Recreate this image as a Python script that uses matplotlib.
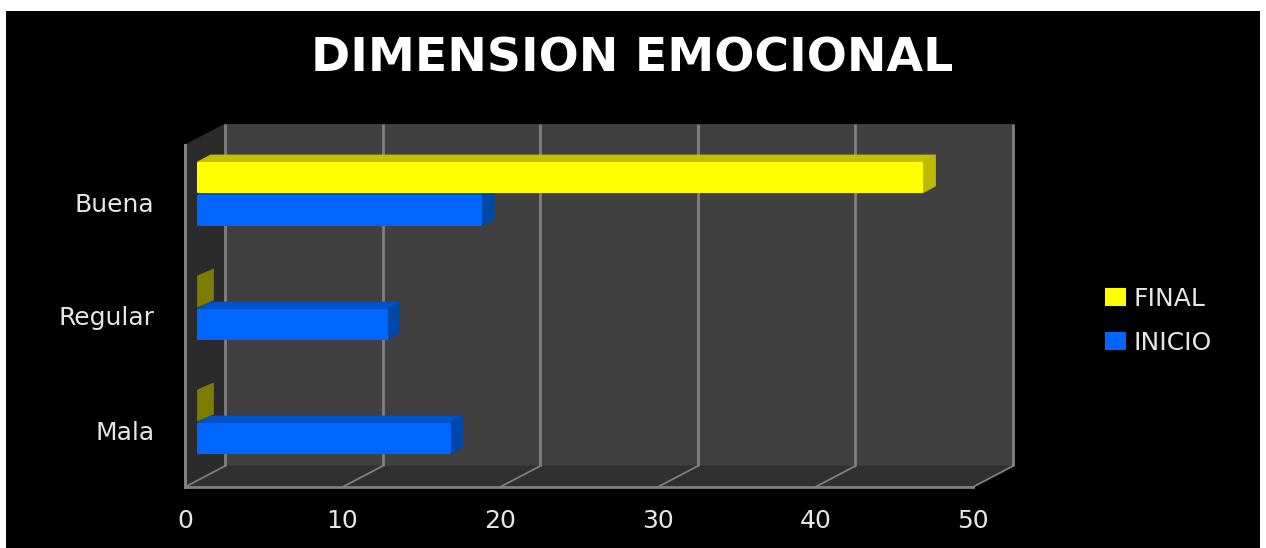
import matplotlib
matplotlib.use('Agg')
import matplotlib.pyplot as plt
from matplotlib.patches import Polygon

# Datos
categorias = ['Mala', 'Regular', 'Buena']
inicio = [16, 12, 18]
final = [0, 0, 46]
ticks_x = [0, 10, 20, 30, 40, 50]

W, H = 1266, 548
fig = plt.figure(figsize=(W / 100, H / 100), dpi=100, facecolor='white')

# Fondo negro (deja el borde blanco arriba y a los lados)
fondo = fig.add_axes([6 / W, 0, (1260 - 6) / W, (H - 11) / H], facecolor='black')
fondo.set_xticks([])
fondo.set_yticks([])
for s in fondo.spines.values():
    s.set_visible(False)

# Plano frontal del grafico: x 185-973, y 145-487 en pixeles
ax = fig.add_axes([185 / W, (H - 487) / H, (973 - 185) / W, (487 - 145) / H])
ax.patch.set_visible(False)
ax.set_xlim(0, 50)
ax.set_ylim(-0.5, 2.5)
for s in ax.spines.values():
    s.set_visible(False)

ux = (973 - 185) / 50   # pixeles por unidad en x
uy = (487 - 145) / 3    # pixeles por unidad en y

# Profundidad de las paredes
px, py = 40 / ux, 21 / uy
# Separacion y profundidad de las barras
sx = 12.5 / ux
bx, by = 13 / ux, 7 / uy
bx_cero = 16 / ux
alto = 31 / uy
borde = 2 / uy


def cara(puntos, color, z, alpha=None):
    ax.add_patch(Polygon(puntos, closed=True, facecolor=color, edgecolor=color, alpha=alpha,
                         linewidth=0.6, joinstyle='round', zorder=z, clip_on=False))


x0, x1 = ax.get_xlim()
y0, y1 = ax.get_ylim()
cara([(x0 + px, y0 + py), (x1 + px, y0 + py), (x1 + px, y1 + py), (x0 + px, y1 + py)], '#404040', 1)
cara([(x0, y0), (x1, y0), (x1 + px, y0 + py), (x0 + px, y0 + py)], '#303030', 1.1)
cara([(x0, y0), (x0 + px, y0 + py), (x0 + px, y1 + py), (x0, y1)], '#2b2b2b', 1.1)

# Rejilla
for t in ticks_x:
    ax.plot([t + px, t + px], [y0 + py, y1 + py], color='#808080', lw=2.0, zorder=2,
            clip_on=False, solid_capstyle='butt')
    ax.plot([t, t + px], [y0, y0 + py], color='#808080', lw=1.3, zorder=2, clip_on=False)
ax.plot([x0, x0], [y0, y1], color='#808080', lw=2.2, zorder=2.5, clip_on=False)
ax.plot([x0, x1], [y0, y0], color='#808080', lw=2.0, zorder=2.5, clip_on=False)

# Barras
y_inicio = [i - 8.5 / uy for i in range(len(categorias))]
y_final = [i + 24.5 / uy for i in range(len(categorias))]
series = [('INICIO', inicio, y_inicio, '#0066ff', '#0052c8', '#0048a8'),
          ('FINAL', final, y_final, '#ffff00', '#c4c000', '#bdb800')]

barras = {}
for nombre, valores, ys, frente, arriba, lado in series:
    for i, (v, y) in enumerate(zip(valores, ys)):
        # las barras en cero quedan detras de la barra de abajo
        z = 5 if v > 0 and nombre == 'FINAL' else 3 if v == 0 else 4
        l = sx
        if v > 0:
            cara([(l, y + alto / 2), (l + v, y + alto / 2),
                  (l + v + bx, y + alto / 2 + by), (l + bx, y + alto / 2 + by)], arriba, z)
            cara([(l + v, y - alto / 2), (l + v + bx, y - alto / 2 + by),
                  (l + v + bx, y + alto / 2 + by), (l + v, y + alto / 2)], lado, z)
        else:
            cara([(l, y - alto / 2), (l + bx_cero, y - alto / 2 + by),
                  (l + bx_cero, y + alto / 2 + by), (l, y + alto / 2)], '#7d7c00', z)
        # sin borde en las barras de valor cero
        b = ax.barh(y, v, height=alto - borde, left=l, color=frente, edgecolor=frente,
                    linewidth=1.5 if v > 0 else 0, zorder=z + 0.5, label=nombre if i == 0 else None)
        b[0].set_joinstyle('round')
        if v > 0:
            barras[nombre] = b

# Ejes
ax.set_xticks(ticks_x)
ax.set_yticks(range(len(categorias)))
ax.set_yticklabels(categorias)
ax.tick_params(axis='x', length=0, pad=16, labelsize=18, labelcolor='#e6e6e6')
ax.tick_params(axis='y', length=0, pad=22, labelsize=18, labelcolor='#e6e6e6')
for lab in ax.get_xticklabels() + ax.get_yticklabels():
    lab.set_family('DejaVu Sans')

fig.text(632 / W, 1 - 59 / H, 'DIMENSION EMOCIONAL', color='white', fontsize=34,
         fontweight='bold', family='DejaVu Sans', ha='center', va='center')

leg = ax.legend([barras['FINAL'], barras['INICIO']], ['FINAL', 'INICIO'],
                loc='center left', bbox_to_anchor=(1106 / W, 1 - 321 / H),
                bbox_transform=fig.transFigure, frameon=False, fontsize=18,
                labelcolor='#e6e6e6', handlelength=0.76, handleheight=0.6,
                handletextpad=0.36, labelspacing=0.8, borderpad=0, borderaxespad=0)

fig.savefig('out.png', dpi=100, facecolor=fig.get_facecolor())
